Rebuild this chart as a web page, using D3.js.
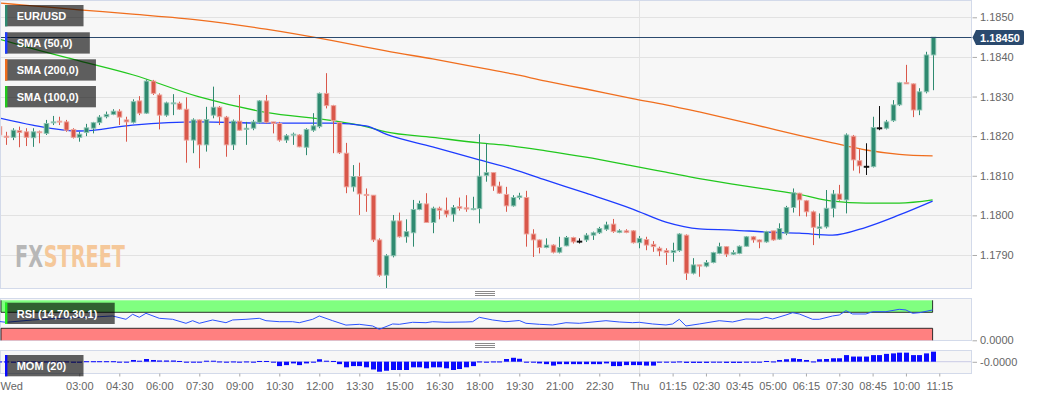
<!DOCTYPE html>
<html>
<head>
<meta charset="utf-8">
<script src="https://cdn.jsdelivr.net/npm/d3@7"></script>
<style>
  html, body { margin: 0; padding: 0; background: #fff; }
  svg { display: block; font-family: "Liberation Sans", Arial, sans-serif; }
</style>
</head>
<body>
<svg id="chart" width="1042" height="399"></svg>
<script>
// ---- data (15 min candles, Wed 00:00 -> Thu 11:00) ----
var opens = [1.18224,1.18200,1.18197,1.18214,1.18211,1.18196,1.18211,1.18207,1.18234,1.18238,
  1.18236,1.18217,1.18197,1.18209,1.18220,1.18234,1.18249,1.18255,1.18263,1.18241,
  1.18235,1.18289,1.18258,1.18339,1.18304,1.18253,1.18283,1.18283,1.18268,1.18190,
  1.18241,1.18178,1.18253,1.18273,1.18248,1.18178,1.18238,1.18217,1.18220,1.18235,
  1.18289,1.18236,1.18232,1.18190,1.18203,1.18203,1.18172,1.18215,1.18224,1.18308,
  1.18277,1.18234,1.18157,1.18072,1.18098,1.18053,1.18051,1.17938,1.17849,1.17898,
  1.17986,1.17946,1.17956,1.18015,1.18029,1.17982,1.18018,1.18013,1.18003,1.18022,
  1.18019,1.18015,1.18017,1.18101,1.18108,1.18074,1.18053,1.18024,1.18045,1.18045,
  1.17953,1.17938,1.17919,1.17925,1.17907,1.17923,1.17944,1.17935,1.17938,1.17950,
  1.17956,1.17965,1.17978,1.17957,1.17961,1.17961,1.17931,1.17939,1.17927,1.17917,
  1.17911,1.17906,1.17911,1.17950,1.17854,1.17875,1.17872,1.17881,1.17904,1.17921,
  1.17902,1.17904,1.17922,1.17946,1.17938,1.17933,1.17961,1.17940,1.17955,1.18020,
  1.18056,1.18037,1.18009,1.17967,1.17971,1.18018,1.18054,1.18039,1.18200,1.18138,
  1.18124,1.18123,1.18221,1.18220,1.18239,1.18279,1.18335,1.18332,1.18266,1.18312,
  1.18405];
var highs = [1.18233,1.18211,1.18220,1.18224,1.18220,1.18220,1.18214,1.18241,1.18251,1.18249,
  1.18241,1.18220,1.18211,1.18231,1.18236,1.18253,1.18262,1.18268,1.18268,1.18249,
  1.18293,1.18301,1.18343,1.18342,1.18308,1.18287,1.18306,1.18287,1.18298,1.18245,
  1.18242,1.18274,1.18325,1.18276,1.18251,1.18242,1.18304,1.18236,1.18241,1.18291,
  1.18304,1.18236,1.18236,1.18205,1.18209,1.18205,1.18220,1.18258,1.18310,1.18359,
  1.18279,1.18236,1.18183,1.18127,1.18133,1.18068,1.18051,1.17942,1.17902,1.18001,
  1.18007,1.17990,1.18039,1.18037,1.18056,1.18022,1.18022,1.18045,1.18026,1.18045,
  1.18051,1.18047,1.18205,1.18182,1.18109,1.18085,1.18072,1.18051,1.18057,1.18062,
  1.17965,1.17939,1.17942,1.17927,1.17946,1.17948,1.17946,1.17942,1.17955,1.17959,
  1.17971,1.17984,1.17991,1.17965,1.17965,1.17963,1.17948,1.17946,1.17935,1.17921,
  1.17917,1.17931,1.17955,1.17952,1.17892,1.17875,1.17887,1.17908,1.17931,1.17922,
  1.17912,1.17924,1.17948,1.17948,1.17939,1.17961,1.17961,1.17980,1.18024,1.18068,
  1.18057,1.18039,1.18012,1.18005,1.18064,1.18064,1.18077,1.18207,1.18203,1.18167,
  1.18182,1.18249,1.18276,1.18241,1.18291,1.18337,1.18380,1.18333,1.18321,1.18413,
  1.18450];
var lows = [1.18190,1.18178,1.18190,1.18172,1.18175,1.18173,1.18182,1.18203,1.18228,1.18228,
  1.18211,1.18194,1.18186,1.18200,1.18207,1.18228,1.18245,1.18253,1.18228,1.18186,
  1.18232,1.18253,1.18256,1.18304,1.18217,1.18249,1.18253,1.18266,1.18133,1.18157,
  1.18119,1.18161,1.18245,1.18228,1.18148,1.18165,1.18214,1.18178,1.18215,1.18232,
  1.18232,1.18207,1.18186,1.18183,1.18178,1.18172,1.18152,1.18211,1.18220,1.18270,
  1.18157,1.18155,1.18056,1.18060,1.18001,1.18009,1.17933,1.17845,1.17816,1.17894,
  1.17944,1.17931,1.17921,1.18013,1.17981,1.17955,1.17990,1.17995,1.17984,1.18012,
  1.18009,1.18013,1.17980,1.18085,1.18062,1.18054,1.18009,1.18022,1.18040,1.17921,
  1.17895,1.17904,1.17917,1.17904,1.17904,1.17922,1.17929,1.17929,1.17933,1.17938,
  1.17953,1.17961,1.17956,1.17955,1.17955,1.17929,1.17917,1.17912,1.17908,1.17897,
  1.17875,1.17883,1.17908,1.17837,1.17851,1.17845,1.17869,1.17879,1.17902,1.17895,
  1.17900,1.17902,1.17921,1.17931,1.17917,1.17931,1.17936,1.17938,1.17950,1.18007,
  1.17998,1.17997,1.17925,1.17942,1.17967,1.17995,1.18037,1.18005,1.18113,1.18106,
  1.18102,1.18121,1.18215,1.18217,1.18236,1.18276,1.18332,1.18248,1.18253,1.18308,
  1.18316];
var closes = [1.18203,1.18197,1.18215,1.18209,1.18197,1.18211,1.18209,1.18232,1.18236,1.18236,
  1.18215,1.18197,1.18205,1.18221,1.18234,1.18248,1.18255,1.18263,1.18248,1.18236,
  1.18287,1.18258,1.18339,1.18308,1.18253,1.18284,1.18284,1.18268,1.18190,1.18241,
  1.18178,1.18242,1.18273,1.18249,1.18178,1.18238,1.18215,1.18220,1.18236,1.18289,
  1.18235,1.18232,1.18190,1.18201,1.18205,1.18173,1.18217,1.18226,1.18308,1.18277,
  1.18239,1.18158,1.18072,1.18098,1.18054,1.18050,1.17938,1.17849,1.17898,1.17986,
  1.17946,1.17959,1.18015,1.18030,1.17982,1.18018,1.18013,1.18003,1.18020,1.18018,
  1.18016,1.18017,1.18099,1.18108,1.18074,1.18056,1.18024,1.18045,1.18049,1.17953,
  1.17938,1.17919,1.17925,1.17907,1.17919,1.17944,1.17933,1.17935,1.17950,1.17956,
  1.17967,1.17976,1.17959,1.17961,1.17957,1.17931,1.17942,1.17925,1.17921,1.17910,
  1.17906,1.17911,1.17953,1.17854,1.17875,1.17872,1.17881,1.17906,1.17921,1.17902,
  1.17906,1.17922,1.17946,1.17938,1.17933,1.17959,1.17938,1.17967,1.18020,1.18057,
  1.18039,1.18009,1.17970,1.17971,1.18018,1.18054,1.18040,1.18203,1.18140,1.18125,
  1.18124,1.18222,1.18221,1.18236,1.18279,1.18335,1.18332,1.18266,1.18312,1.18405,
  1.18450];

// moving averages, read at these candle indexes
var smaIdx = [0,5,12,20,30,40,50,55,58,65,72,77,82,88,95,100,105,110,115,120,125,130,135,140];
var sma50 = [1.18246,1.18228,1.18213,1.18228,1.18236,1.18233,1.18233,1.18226,1.18205,1.18173,1.18140,1.18117,
  1.18089,1.18056,1.18016,1.17983,1.17966,1.17963,1.17958,1.17955,1.17950,1.17970,1.18001,1.18036];
var sma100 = [1.18445,1.18421,1.18390,1.18355,1.18299,1.18260,1.18239,1.18224,1.18211,1.18197,1.18183,1.18175,
  1.18163,1.18147,1.18125,1.18109,1.18093,1.18079,1.18066,1.18053,1.18036,1.18031,1.18031,1.18039];
var sma200 = [1.18536,1.18529,1.18519,1.18508,1.18493,1.18470,1.18441,1.18425,1.18415,1.18395,1.18373,1.18357,
  1.18339,1.18319,1.18295,1.18279,1.18261,1.18242,1.18222,1.18202,1.18183,1.18165,1.18154,1.18150];

// RSI (14) read at these candle indexes
var rsiIdx = [0,1,5,9,15,17,19,20,21,22,24,26,28,29,30,32,34,35,37,39,40,42,44,45,47,48,50,52,54,56,57,
  59,60,62,64,65,67,70,71,72,74,76,78,79,81,83,85,87,91,93,95,96,98,100,101,102,103,105,108,110,112,
  114,115,116,118,119,120,122,123,125,126,127,128,130,131,133,135,136,137,138,140];
var rsiVal = [47,45,50.8,55,59,60.8,52.5,65,57.5,67.5,55,52.5,42.5,49,42.5,50.8,44,50.8,52.5,55,49,
  46.5,46.5,44,52.5,60.8,49,38,40,35.8,27.5,40.8,40,45,44,46.5,45,45.8,46.5,57.5,50.8,
  46.5,49.5,42.5,40,38.3,44,42.5,49,45.8,44,45,40.8,38.3,40.8,52.5,35.8,40.8,49,45.8,53.3,
  52.5,57.5,53.3,63.3,69,65.8,52.5,52.5,60.8,63.3,74,65.8,65.8,71.5,71.5,77.5,75.8,67.5,69,75.8];

// MOM (20), one per candle
var mom = [0.0001,0.0001,-0.0001,0.0001,0.0001,0.0001,-0.0001,0.0001,0.0001,0.0001,
  0.0001,-0.0001,-0.0001,0.0002,0.0002,0.0002,0.0002,0.0002,-0.0001,-0.0001,
  0.0007,0.0004,0.0011,0.0007,0.0005,0.0005,0.0005,0.0003,-0.0004,-0.0001,
  -0.0004,0.0004,0.0004,0.0001,-0.0004,0.0001,-0.0001,0.0001,-0.0001,0.0003,
  0.0003,-0.0001,-0.0018,-0.0014,-0.0007,-0.0014,-0.0007,-0.0004,0.0010,0.0004,
  0.0003,-0.0010,-0.0023,-0.0018,-0.0018,-0.0023,-0.0032,-0.0041,-0.0037,-0.0034,
  -0.0034,-0.0034,-0.0023,-0.0023,-0.0027,-0.0023,-0.0023,-0.0027,-0.0034,-0.0030,
  -0.0023,-0.0018,0.0001,-0.0001,0.0001,0.0001,0.0011,0.0016,0.0012,-0.0003,
  -0.0004,-0.0007,-0.0010,-0.0016,-0.0010,-0.0010,-0.0010,-0.0010,-0.0010,-0.0010,
  -0.0010,-0.0007,-0.0018,-0.0018,-0.0014,-0.0014,-0.0014,-0.0016,-0.0016,-0.0004,
  -0.0004,-0.0001,0.0001,-0.0005,-0.0005,-0.0005,-0.0005,-0.0004,-0.0004,-0.0005,
  -0.0005,-0.0005,-0.0003,-0.0003,-0.0003,0.0003,0.0001,0.0007,0.0010,0.0014,
  0.0011,0.0007,0.0001,0.0010,0.0011,0.0014,0.0014,0.0027,0.0021,0.0021,
  0.0021,0.0027,0.0027,0.0032,0.0034,0.0037,0.0037,0.0027,0.0027,0.0034,
  0.0041];

var priceTicks = [1.1790, 1.1800, 1.1810, 1.1820, 1.1830, 1.1840, 1.1850];
var tickMinutes = [0,180,270,360,450,540,630,720,810,900,990,1080,1170,1260,1350,
  1440,1515,1590,1665,1740,1815,1890,1965,2040,2115];
var tickLabels = ["Wed","03:00","04:30","06:00","07:30","09:00","10:30","12:00","13:30","15:00",
  "16:30","18:00","19:30","21:00","22:30","Thu","01:15","02:30","03:45","05:00","06:15",
  "07:30","08:45","10:00","11:15"];

// ---- setup ----
var start = new Date(2021, 8, 1, 0, 0);
var times = d3.timeMinutes(start, new Date(2021, 8, 2, 11, 15), 15);
var plotRight = 971.5;

var x = d3.scaleTime()
  .domain([start, d3.timeMinute.offset(start, 2190)])
  .range([-0.7, 972.6]);
var y = d3.scaleLinear().domain([1.178154, 1.185437]).range([288.5, 0]);
var yRsi = d3.scaleLinear().domain([0, 100]).range([340.3, 300.3]);
var yMom = d3.scaleLinear().domain([-0.00475, 0.0045]).range([373.3, 350.7]);

var fmt4 = function (d) { return (d < 0 ? "-" : "") + Math.abs(d).toFixed(4); };

var svg = d3.select("#chart");
var border = "#d3daea";

// panels
[[0.5, 288], [298.5, 42], [350.5, 23]].forEach(function (p) {
  svg.append("rect")
    .attr("x", 0.5).attr("y", p[0])
    .attr("width", plotRight - 0.5).attr("height", p[1])
    .attr("fill", "#f7f7f7").attr("stroke", border);
});

// drag handles
[291.5, 343.5].forEach(function (hy) {
  for (var k = 0; k < 3; k++) {
    svg.append("line")
      .attr("x1", 475).attr("x2", 495)
      .attr("y1", hy + k * 2).attr("y2", hy + k * 2)
      .attr("stroke", "#8a8a8a").attr("stroke-width", 1);
  }
});

// grid
svg.append("g").selectAll("line").data(priceTicks).enter().append("line")
  .attr("x1", 1).attr("x2", plotRight - 0.5)
  .attr("y1", function (d) { return Math.round(y(d)) + 0.5; })
  .attr("y2", function (d) { return Math.round(y(d)) + 0.5; })
  .attr("stroke", "#e2e2e2");

var thuX = Math.round(x(d3.timeMinute.offset(start, 1440))) + 0.5;
svg.append("line").attr("x1", thuX).attr("x2", thuX).attr("y1", 1).attr("y2", 373)
  .attr("stroke", "#e3e3e3");

// watermark: squeezed horizontally as a group
var wm = svg.append("g");
var wmFx = wm.append("text").attr("x", 0).attr("y", 0).attr("fill", "#b7b7b7")
  .style("font-family", "'DejaVu Sans Condensed', 'Liberation Sans Narrow', sans-serif")
  .style("font-weight", "bold").style("font-size", "31px").text("FX");
var fxLen = wmFx.node().getComputedTextLength();
var wmSt = wm.append("text").attr("x", fxLen + 1).attr("y", 0).attr("fill", "#f5c89a")
  .style("font-family", "'DejaVu Sans Condensed', 'Liberation Sans Narrow', sans-serif")
  .style("font-weight", "bold").style("font-size", "31px").text("STREET");
var wmLen = fxLen + 1 + wmSt.node().getComputedTextLength();
wm.attr("transform", "translate(15,267) scale(" + (110 / wmLen) + ",1)");

// clip main panel
svg.append("clipPath").attr("id", "clipMain").append("rect")
  .attr("x", 1).attr("y", 1).attr("width", plotRight - 1.5).attr("height", 287);

var main = svg.append("g").attr("clip-path", "url(#clipMain)");

// moving averages
function smaLine(vals, color) {
  var line = d3.line()
    .x(function (d, i) { return x(times[smaIdx[i]]); })
    .y(function (d) { return y(d); })
    .curve(d3.curveMonotoneX);
  main.append("path").datum(vals)
    .attr("d", line).attr("fill", "none")
    .attr("stroke", color).attr("stroke-width", 1.3);
}
smaLine(sma200, "#f06e1e");
smaLine(sma100, "#22c81e");
smaLine(sma50, "#1e3cff");

// candles
var upFill = "#2f8a70", upEdge = "#8fc5b4";
var dnFill = "#d9574a", dnEdge = "#eda79f";
var candles = main.append("g").selectAll("g").data(times).enter().append("g");
function colorOf(i) {
  if (closes[i] > opens[i]) return upFill;
  if (closes[i] < opens[i]) return dnFill;
  return "#111";
}
candles.append("line")
  .attr("x1", function (d) { return Math.round(x(d)) + 0.5; })
  .attr("x2", function (d) { return Math.round(x(d)) + 0.5; })
  .attr("y1", function (d, i) { return y(highs[i]); })
  .attr("y2", function (d, i) { return y(lows[i]); })
  .attr("stroke", function (d, i) { return colorOf(i); })
  .attr("stroke-width", 1);
candles.append("rect")
  .attr("x", function (d) { return Math.round(x(d)) + 0.5 - 2.3; })
  .attr("width", 4.6)
  .attr("y", function (d, i) { return y(Math.max(opens[i], closes[i])); })
  .attr("height", function (d, i) {
    return Math.max(1, Math.abs(y(opens[i]) - y(closes[i])));
  })
  .attr("fill", function (d, i) { return colorOf(i); })
  .attr("stroke", function (d, i) {
    if (closes[i] > opens[i]) return upEdge;
    if (closes[i] < opens[i]) return dnEdge;
    return "#111";
  })
  .attr("stroke-width", 0.9);

// last price line
var last = closes[closes.length - 1];
var ly = Math.round(y(last)) + 0.5;
svg.append("line").attr("x1", 1).attr("x2", plotRight).attr("y1", ly).attr("y2", ly)
  .attr("stroke", "#2b4a6e").attr("stroke-width", 1.2);

// price axis
var priceAxis = svg.append("g").attr("transform", "translate(" + (plotRight + 1) + ",0)")
  .call(d3.axisRight(y).tickValues(priceTicks).tickSize(4.5).tickPadding(3)
    .tickFormat(d3.format(".4f")));
priceAxis.select(".domain").remove();
priceAxis.selectAll("line").attr("stroke", "#aaa");
priceAxis.selectAll("text").attr("fill", "#666").style("font-size", "11px")
  .style("font-family", "'Liberation Sans', Arial, sans-serif");

// last price label
svg.append("path")
  .attr("d", "M" + (plotRight + 1) + "," + ly + " L" + (plotRight + 4.5) + "," + (ly - 7.5) +
    " H1022 Q1024," + (ly - 7.5) + " 1024," + (ly - 5.5) + " V" + (ly + 5.5) +
    " Q1024," + (ly + 7.5) + " 1022," + (ly + 7.5) + " H" + (plotRight + 4.5) + " Z")
  .attr("fill", "#2b4a6e");
svg.append("text").attr("x", 1000).attr("y", ly + 4)
  .attr("text-anchor", "middle").attr("fill", "#fff")
  .style("font-size", "11px").style("font-weight", "bold")
  .text(last.toFixed(5));

// ---- RSI panel ----
var lastX = x(times[times.length - 1]);
svg.append("rect").attr("x", 1).attr("y", yRsi(100)).attr("width", lastX - 1)
  .attr("height", yRsi(70) - yRsi(100)).attr("fill", "#80ff80");
svg.append("rect").attr("x", 1).attr("y", yRsi(30)).attr("width", lastX - 1)
  .attr("height", yRsi(0) - yRsi(30)).attr("fill", "#ff8080");
svg.append("path")
  .attr("d", "M1," + yRsi(100) + " V" + yRsi(70) + " H" + lastX + " V" + yRsi(100))
  .attr("fill", "none").attr("stroke", "#1b1b1b").attr("stroke-width", 0.9);
svg.append("path")
  .attr("d", "M1," + yRsi(0) + " V" + yRsi(30) + " H" + lastX + " V" + yRsi(0))
  .attr("fill", "none").attr("stroke", "#1b1b1b").attr("stroke-width", 0.9);

var rsiLine = d3.line()
  .x(function (d, i) { return x(times[rsiIdx[i]]); })
  .y(function (d) { return yRsi(d); });
svg.append("path").datum(rsiVal).attr("d", rsiLine)
  .attr("fill", "none").attr("stroke", "#2a52ff").attr("stroke-width", 1);

var rsiAxis = svg.append("g").attr("transform", "translate(" + (plotRight + 1) + ",0)")
  .call(d3.axisRight(yRsi).tickValues([0]).tickSize(4.5).tickPadding(3).tickFormat(fmt4));
rsiAxis.select(".domain").remove();
rsiAxis.selectAll("line").attr("stroke", "#aaa");
rsiAxis.selectAll("text").attr("fill", "#666").style("font-size", "11px");

// ---- MOM panel ----
svg.append("line").attr("x1", 1).attr("x2", plotRight - 0.5)
  .attr("y1", yMom(0)).attr("y2", yMom(0))
  .attr("stroke", "#c9cbe6").attr("stroke-width", 1);
svg.append("g").selectAll("rect").data(mom).enter().append("rect")
  .attr("x", function (d, i) { return Math.round(x(times[i])) + 0.5 - 2.5; })
  .attr("width", 5)
  .attr("y", function (d) { return d >= 0 ? yMom(d) : yMom(0); })
  .attr("height", function (d) { return Math.max(1, Math.abs(yMom(d) - yMom(0))); })
  .attr("fill", "#0a0aff");

var momAxis = svg.append("g").attr("transform", "translate(" + (plotRight + 1) + ",0)")
  .call(d3.axisRight(yMom).tickValues([-0.00004]).tickSize(4.5).tickPadding(3).tickFormat(fmt4));
momAxis.select(".domain").remove();
momAxis.selectAll("line").attr("stroke", "#aaa");
momAxis.selectAll("text").attr("fill", "#666").style("font-size", "11px");

// ---- time axis ----
var tickDates = tickMinutes.map(function (m) { return d3.timeMinute.offset(start, m); });
var timeAxis = svg.append("g").attr("transform", "translate(0,373.5)")
  .call(d3.axisBottom(x).tickValues(tickDates).tickSize(3).tickPadding(6)
    .tickFormat(function (d, i) { return tickLabels[i]; }));
timeAxis.select(".domain").remove();
timeAxis.selectAll("line").attr("stroke", "#aaa");
timeAxis.selectAll("text").attr("fill", "#666").style("font-size", "11px");
timeAxis.selectAll(".tick").filter(function (d, i) { return i === 0; })
  .each(function () {
    d3.select(this).select("line").remove();
    d3.select(this).select("text").attr("text-anchor", "start").attr("x", 0.7);
  });

// ---- legends ----
function legend(ly0, label, color) {
  var g = svg.append("g");
  var box = g.append("rect").attr("x", 5).attr("y", ly0).attr("height", 21.3)
    .attr("fill", "rgba(0,0,0,0.62)");
  var t = g.append("text").attr("x", 16.7).attr("y", ly0 + 15)
    .attr("fill", "#fff").style("font-size", "11px").style("font-weight", "bold")
    .text(label);
  box.attr("width", t.node().getComputedTextLength() + 29);
  g.append("rect").attr("x", 5).attr("y", ly0).attr("width", 2.4).attr("height", 21.3)
    .attr("fill", color);
}
legend(5, "EUR/USD", "#2f8a70");
legend(32.3, "SMA (50,0)", "#1e3cff");
legend(59.3, "SMA (200,0)", "#f06e1e");
legend(86, "SMA (100,0)", "#22c81e");
legend(302.7, "RSI (14,70,30,1)", "#22ee22");
legend(355, "MOM (20)", "#0a0aff");
</script>
</body>
</html>
